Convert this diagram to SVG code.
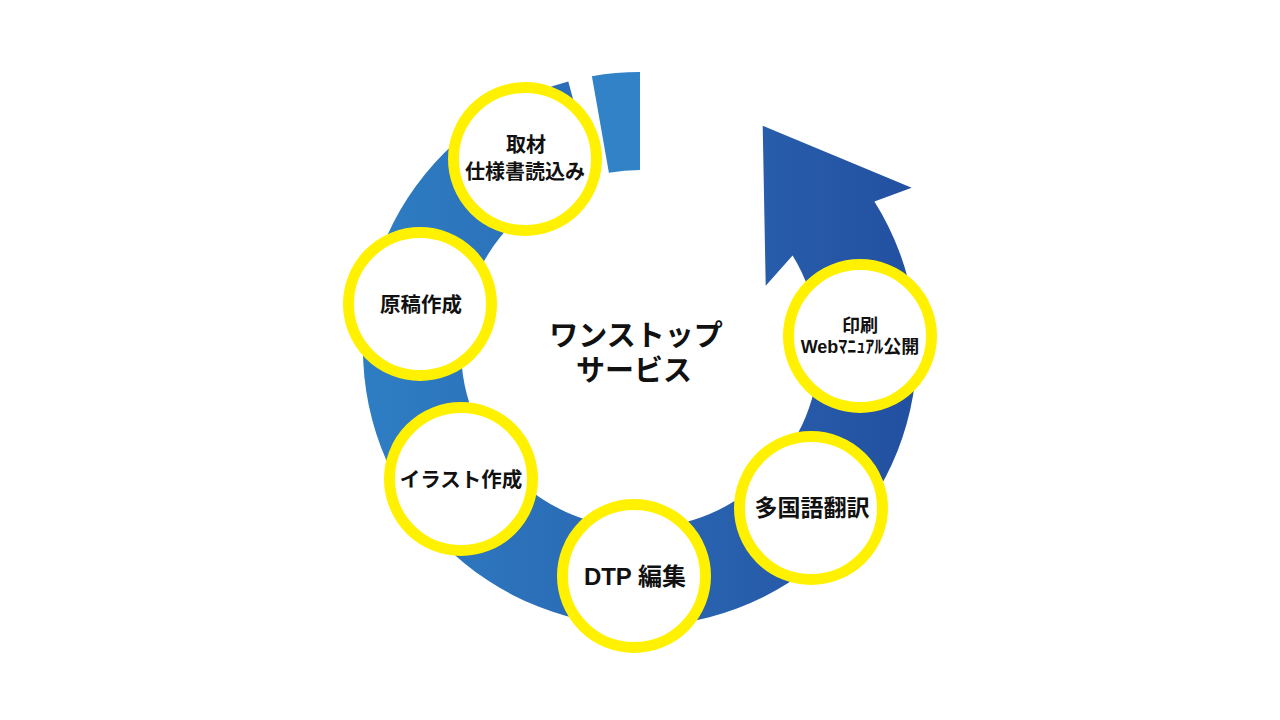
<svg xmlns="http://www.w3.org/2000/svg" width="1280" height="720" viewBox="0 0 1280 720">
<defs>
<linearGradient id="ringGrad" gradientUnits="userSpaceOnUse" x1="360" y1="0" x2="915" y2="0">
<stop offset="0" stop-color="#2e7ec4"/>
<stop offset="0.5" stop-color="#2a68b3"/>
<stop offset="1" stop-color="#2350a1"/>
</linearGradient>
</defs>
<style>
.node circle{fill:#ffffff;stroke:#fff100;stroke-width:11}
.lbl{font-family:"Liberation Sans","Noto Sans CJK JP",sans-serif;font-weight:700;fill:#111111;text-anchor:middle;dominant-baseline:central}
.ctr{font-family:"Noto Sans CJK JP",sans-serif;font-weight:700;fill:#111111;text-anchor:middle;dominant-baseline:central;font-size:29px}
</style>
<rect width="1280" height="720" fill="#ffffff"/>
<g id="connectors">
<path d="M 591.9,76.2 A 277 277 0 0 1 640,72 L 640,170 A 179 179 0 0 0 608.9,172.7 Z" fill="#3182c7"/>
<path d="M 568.3,81.4 A 277 277 0 1 0 874.4,201.4 L 911.7,187.7 L 762.7,125.7 L 765.7,285.7 L 792.6,255.5 A 179 179 0 1 1 593.7,176.1 Z" fill="url(#ringGrad)"/>
</g>
<g id="center-title">
<text class="ctr"><tspan x="636" y="333">ワンストップ</tspan><tspan x="634" y="368">サービス</tspan></text>
</g>
<g id="node-shuzai" class="node">
<circle cx="525" cy="159" r="71.5"/>
<text class="lbl" font-size="20"><tspan x="526" y="145">取材</tspan><tspan x="525" y="172">仕様書読込み</tspan></text>
</g>
<g id="node-genko" class="node">
<circle cx="420" cy="304" r="71.5"/>
<text class="lbl" x="421" y="304" font-size="20.5">原稿作成</text>
</g>
<g id="node-illust" class="node">
<circle cx="461" cy="479" r="71.5"/>
<text class="lbl" x="461" y="479" font-size="20.5">イラスト作成</text>
</g>
<g id="node-dtp" class="node">
<circle cx="634" cy="576" r="71.5"/>
<text class="lbl" x="635" y="576" font-size="24">DTP 編集</text>
</g>
<g id="node-honyaku" class="node">
<circle cx="811" cy="508" r="71.5"/>
<text class="lbl" x="812" y="508" font-size="23">多国語翻訳</text>
</g>
<g id="node-insatsu" class="node">
<circle cx="860" cy="336" r="71.5"/>
<text class="lbl" font-size="18"><tspan x="860" y="326">印刷</tspan><tspan x="860" y="347">Webﾏﾆｭｱﾙ公開</tspan></text>
</g>
</svg>
